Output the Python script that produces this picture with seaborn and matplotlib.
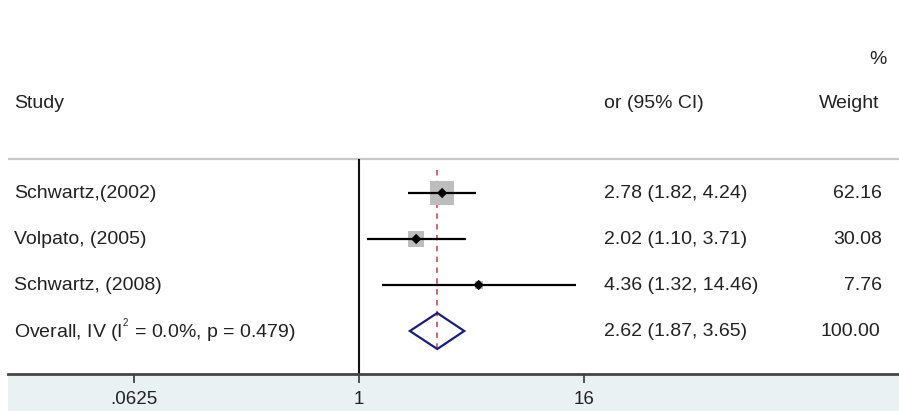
import numpy as np
import pandas as pd
import matplotlib
matplotlib.use('Agg')
import matplotlib.pyplot as plt
from matplotlib.patches import Rectangle
from matplotlib.transforms import blended_transform_factory
import seaborn as sns

# forest plot data
studies = ['Schwartz,(2002)', 'Volpato, (2005)', 'Schwartz, (2008)']
odds = [2.78, 2.02, 4.36]
ci_lo = [1.82, 1.10, 1.32]
ci_hi = [4.24, 3.71, 14.46]
weights = [62.16, 30.08, 7.76]

overall_label = r'Overall, IV (I$^{^{2}}$ = 0.0%, p = 0.479)'
overall_or = 2.62
overall_lo = 1.87
overall_hi = 3.65
overall_w = 100.00

tick_vals = [0.0625, 1, 16]
tick_labels = ['.0625', '1', '16']

sns.set_theme(style='white')
plt.rcParams['font.family'] = ['Liberation Sans', 'DejaVu Sans']
plt.rcParams['mathtext.fontset'] = 'custom'
plt.rcParams['mathtext.rm'] = 'Liberation Sans'
plt.rcParams['mathtext.it'] = 'Liberation Sans:italic'

df = pd.DataFrame({'study': studies, 'or': odds, 'lo': ci_lo, 'hi': ci_hi, 'w': weights})
df['row'] = np.arange(len(df))
overall_row = len(df)

W, H = 899, 411
fig = plt.figure(figsize=(W / 100, H / 100), dpi=100, facecolor='white')
# bottom strip (behind the axes so the tick labels stay visible)
fig.patches.append(Rectangle((8 / W, 0), 1, 37 / H, transform=fig.transFigure,
                             facecolor='#eaf1f3', edgecolor='none', zorder=-1))
ax = fig.add_axes([8 / W, 37 / H, 891 / W, 374 / H])
ax.set_facecolor('white')

ax.set_xscale('log', base=2)
ax.set_xlim(2 ** (-351 / 56.33), 2 ** (540 / 56.33))
ax.set_ylim(181 / 46, -193 / 46)

txt = '#222222'
# header separator and null line
ax.axhline(-34 / 46, color='#c8c8c8', lw=1.6, zorder=1)
ax.vlines(1, -34 / 46, 181 / 46, color='#111111', lw=1.5, zorder=2)
ax.vlines(overall_or, -0.5, 3.46, color='#c85a64', lw=1.3, linestyles=(0, (3, 3)), zorder=2)

# CI lines
ax.hlines(df['row'], df['lo'], df['hi'], color='black', lw=1.6, zorder=3)
# weight boxes (area ~ weight)
sns.scatterplot(data=df, x='or', y='row', size='w', sizes=(0, 285), size_norm=(0, 62.16),
                marker='s', color='#bdbdbd', edgecolor='none', legend=False, ax=ax, zorder=2)
sns.scatterplot(data=df, x='or', y='row', marker='D', s=28, color='black',
                edgecolor='none', legend=False, ax=ax, zorder=4)

# overall diamond
h = 18 / 46
ax.fill([overall_lo, overall_or, overall_hi, overall_or],
        [overall_row, overall_row - h, overall_row, overall_row + h],
        facecolor='none', edgecolor='#1c1c7c', lw=1.6, zorder=4)

# text columns
tr = blended_transform_factory(fig.transFigure, ax.transData)
fs = 14
hy = -90 / 46
ax.text(14 / W, hy, 'Study', transform=tr, ha='left', va='center', fontsize=fs, color=txt)
ax.text(604 / W, hy, 'or (95% CI)', transform=tr, ha='left', va='center', fontsize=fs, color=txt)
ax.text(879 / W, hy, 'Weight', transform=tr, ha='right', va='center', fontsize=fs, color=txt)
ax.text(887 / W, -133 / 46, '%', transform=tr, ha='right', va='center', fontsize=fs, color=txt)

for _, r in df.iterrows():
    ax.text(14 / W, r['row'], r['study'], transform=tr, ha='left', va='center', fontsize=fs, color=txt)
    ax.text(604 / W, r['row'], f"{r['or']:.2f} ({r['lo']:.2f}, {r['hi']:.2f})", transform=tr,
            ha='left', va='center', fontsize=fs, color=txt)
    ax.text(882 / W, r['row'], f"{r['w']:.2f}", transform=tr, ha='right', va='center', fontsize=fs, color=txt)

ax.text(14 / W, overall_row, overall_label, transform=tr, ha='left', va='center', fontsize=fs, color=txt)
ax.text(604 / W, overall_row, f"{overall_or:.2f} ({overall_lo:.2f}, {overall_hi:.2f})", transform=tr,
        ha='left', va='center', fontsize=fs, color=txt)
ax.text(880 / W, overall_row, f"{overall_w:.2f}", transform=tr, ha='right', va='center', fontsize=fs, color=txt)

# axis
for s in ['left', 'right', 'top']:
    ax.spines[s].set_visible(False)
ax.spines['bottom'].set_color('#444444')
ax.spines['bottom'].set_linewidth(2)
ax.set_yticks([])
ax.set_xticks(tick_vals)
ax.set_xticklabels(tick_labels)
ax.xaxis.set_minor_locator(matplotlib.ticker.NullLocator())
ax.tick_params(axis='x', direction='out', length=6.5, width=1.3, color='#444444',
               labelsize=13.5, labelcolor=txt, pad=6, bottom=True)
ax.set_xlabel('')
ax.set_ylabel('')

fig.savefig('out.png', dpi=100, facecolor='white')
